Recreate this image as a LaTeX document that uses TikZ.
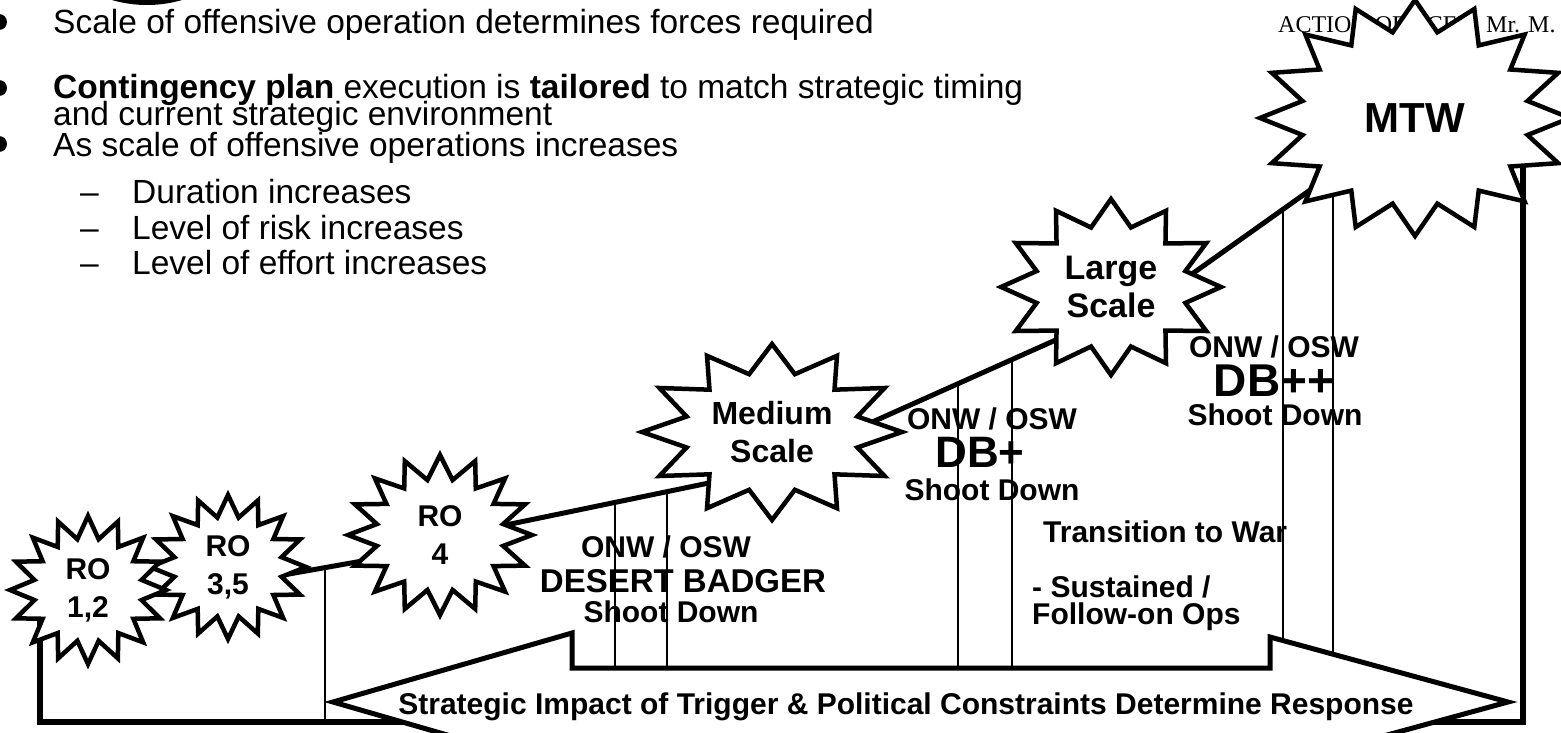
\documentclass[tikz,border=0pt]{standalone}
\usepackage{fontspec}
\setmainfont{Liberation Sans}
\newfontfamily\officefont{Liberation Serif}
\usetikzlibrary{shapes.geometric,backgrounds}

% starburst: name, centre, x radius, y radius, points, notch ratio, label size, label
\newcommand{\burst}[8]{%
  \pgfmathtruncatemacro{\lastk}{2*#5-1}%
  \begin{scope}[shift={#2}]
    \draw[burstline] (0,#4)
      \foreach \k in {1,...,\lastk}{
        -- ({#3*(1-(1-#6)*mod(\k,2))*cos(90+\k*180/#5)},
            {#4*(1-(1-#6)*mod(\k,2))*sin(90+\k*180/#5)})
      } -- cycle;
  \end{scope}
  \node[hub, minimum width=1.2*#3pt, minimum height=1.2*#4pt] (#1) at #2 {};
  \node[burstlabel, font=\bfseries\fontsize{#7}{38}\selectfont] (#1txt) at #2 {#8};
}

\begin{document}
\begin{tikzpicture}[x=1pt, y=-1pt]
  \tikzstyle{pointtext} = [font=\fontsize{33.5}{40}\selectfont, anchor=base west, inner sep=0pt]
  \tikzstyle{optext} = [font=\bfseries\fontsize{30}{36}\selectfont, anchor=base, inner sep=0pt]
  \tikzstyle{burstline} = [draw, line width=4.5pt, fill=white, line join=miter]
  \tikzstyle{burstlabel} = [align=center, inner sep=0pt]
  \tikzstyle{hub} = [ellipse, inner sep=0pt, outer sep=0pt]
  \tikzstyle{stair} = [draw, line width=5pt]
  \tikzstyle{frameline} = [draw, line width=5.5pt, line join=miter]
  \tikzstyle{divider} = [draw, line width=1.3pt]
  \tikzstyle{bigarrow} = [draw, line width=5pt, fill=white, line join=miter]

  \useasboundingbox (0,0) rectangle (1561,733);
  \clip (0,0) rectangle (1561,733);

  \fill (147,-120) circle (125);
  \foreach \y in {22,88,144} \fill (-1,\y) circle (8);

  \node[pointtext] (scale) at (53,34) {Scale of offensive operation determines forces required};
  \node[pointtext] (plan) at (53,99) {\textbf{Contingency plan} execution is \textbf{tailored} to match strategic timing};
  \node[pointtext] (plan2) at (53,126) {and current strategic environment};
  \node[pointtext] (ops) at (53,157) {As scale of offensive operations increases};
  \foreach \y/\txt [count=\i] in {204/Duration increases, 239/Level of risk increases, 274/Level of effort increases} {
    \node[pointtext] (dash\i) at (80,\y) {--};
    \node[pointtext] (sub\i) at (132,\y) {\txt};
  }
  \node[font=\officefont\fontsize{24}{28}\selectfont, anchor=base west, inner sep=0pt] (officer) at (1278,33) {ACTION OFFICER: Mr. M.};

  \draw[bigarrow] (333,702) -- (572,633) -- (572,668) -- (1270,668) -- (1270,637)
    -- (1508,702) -- (1270,767) -- (1270,736) -- (572,736) -- (572,771) -- cycle;

  \burst{RO35}{(228,567)}{78}{72}{16}{0.7}{30}{RO\\3,5}
  \burst{RO12}{(88,590)}{78}{74}{16}{0.7}{30}{RO\\1,2}
  \burst{RO4}{(440,535)}{92}{80}{16}{0.7}{30}{RO\\4}
  \burst{MED}{(772,432)}{130}{88}{12}{0.68}{32}{Medium\\Scale}
  \burst{LRG}{(1111,287)}{110}{88}{12}{0.7}{34}{Large\\Scale}
  \burst{MTW}{(1415,118)}{155}{118}{16}{0.74}{42}{MTW}

  \begin{pgfonlayer}{background}
    \draw[frameline] (40,610) -- (40,722) -- (1523,722) -- (1523,150);
    \draw[divider] (325,569) -- (325,722);
    \foreach \x/\y in {615/502, 667/492, 958/384, 1012/360, 1283/209, 1333/174}
      \draw[divider] (\x,\y) -- (\x,700);
    \draw[stair] (RO35.-12) -- (RO4.-157);
    \draw[stair] (RO4.8) -- (MED.-130);
    \draw[stair] (MED.0) -- (LRG.-129);
    \draw[stair] (LRG.2) -- (MTW.-146);
  \end{pgfonlayer}

  \node[optext] (onw1) at (666,557) {ONW / OSW};
  \node[optext, font=\bfseries\fontsize{33}{36}\selectfont] (db1) at (683,592) {DESERT BADGER};
  \node[optext] (down1) at (671,622) {Shoot Down};
  \node[optext] (onw2) at (992,429) {ONW / OSW};
  \node[optext, font=\bfseries\fontsize{44}{48}\selectfont] (db2) at (980,467) {DB+};
  \node[optext] (down2) at (992,500) {Shoot Down};
  \node[optext] (onw3) at (1274,357) {ONW / OSW};
  \node[optext, font=\bfseries\fontsize{46}{50}\selectfont] (db3) at (1274,396) {DB++};
  \node[optext] (down3) at (1275,425) {Shoot Down};
  \node[optext, anchor=base west] (war) at (1043,542) {Transition to War};
  \node[optext, anchor=base west] (sust) at (1032,597) {- Sustained /};
  \node[optext, anchor=base west] (follow) at (1032,624) {Follow-on Ops};

  \node[optext] (impact) at (906,714) {Strategic Impact of Trigger \& Political Constraints Determine Response};
\end{tikzpicture}
\end{document}
